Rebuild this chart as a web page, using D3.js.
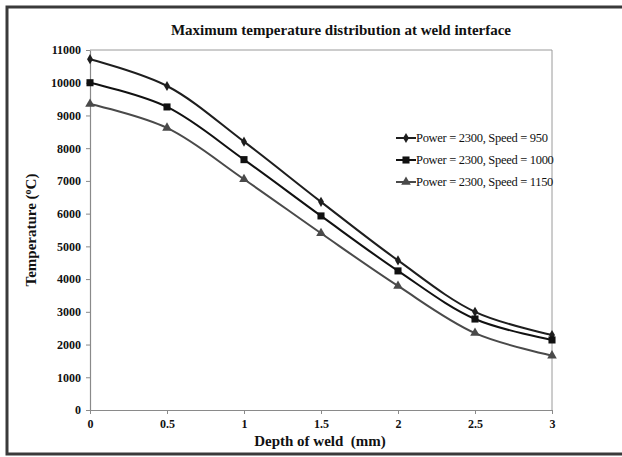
<!DOCTYPE html>
<html>
<head>
<meta charset="utf-8">
<script src="https://cdn.jsdelivr.net/npm/d3@7"></script>
<style>
  body { margin: 0; background: #fff; }
  text { font-family: "Liberation Serif", "Times New Roman", Times, serif; }
</style>
</head>
<body>
<svg id="chart" width="622" height="457"></svg>
<script>
const depth = [0, 0.5, 1, 1.5, 2, 2.5, 3];
const speed950 = [10720, 9900, 8200, 6360, 4570, 3000, 2290];
const speed1000 = [10000, 9260, 7650, 5930, 4250, 2780, 2140];
const speed1150 = [9350, 8620, 7050, 5400, 3790, 2350, 1660];
const seriesNames = ['Power = 2300, Speed = 950', 'Power = 2300, Speed = 1000', 'Power = 2300, Speed = 1150'];
const yTicks = d3.range(0, 11001, 1000);
const xTicks = [0, 0.5, 1, 1.5, 2, 2.5, 3];

const series = [
  { name: seriesNames[0], values: speed950, color: '#1e1e1e', symbol: d3.symbolDiamond, size: 30 },
  { name: seriesNames[1], values: speed1000, color: '#111', symbol: d3.symbolSquare, size: 50 },
  { name: seriesNames[2], values: speed1150, color: '#4a4a4a', symbol: d3.symbolTriangle, size: 40 }
];

const serif = '"Liberation Serif", "Times New Roman", Times, serif';
const svg = d3.select('#chart');
const margin = { left: 90, right: 70, top: 50, bottom: 47 };
const width = 622, height = 457;

// outer frame (top, left, bottom only)
svg.append('path')
  .attr('d', 'M622,7 L7,7 L7,454 L622,454')
  .attr('fill', 'none')
  .attr('stroke', '#3a3a3a')
  .attr('stroke-width', 3);

const x = d3.scaleLinear().domain([0, 3]).range([margin.left, width - margin.right]);
const y = d3.scaleLinear().domain([0, 11000]).range([height - margin.bottom, margin.top]);

// plot area frame: top and right
svg.append('path')
  .attr('d', `M${x(0)},${y(11000)} L${x(3)},${y(11000)} L${x(3)},${y(0)}`)
  .attr('fill', 'none')
  .attr('stroke', '#9a9a9a')
  .attr('stroke-width', 1);

const yAxis = svg.append('g')
  .attr('transform', `translate(${x(0)},0)`)
  .call(d3.axisLeft(y).tickValues(yTicks).tickSize(4).tickSizeOuter(0).tickFormat(d3.format('d')));

const xAxis = svg.append('g')
  .attr('transform', `translate(0,${y(0)})`)
  .call(d3.axisBottom(x).tickValues(xTicks).tickSize(4).tickSizeOuter(0).tickFormat(d => d));

[xAxis, yAxis].forEach(g => {
  g.attr('font-family', serif);
  g.select('.domain').attr('stroke', '#8a8a8a').attr('stroke-width', 1.2);
  g.selectAll('.tick line').attr('stroke', '#8a8a8a');
  g.selectAll('.tick text')
    .attr('font-family', serif)
    .attr('font-weight', 'bold')
    .attr('font-size', 12)
    .attr('fill', '#111');
});
yAxis.selectAll('.tick text').attr('x', -9);
xAxis.selectAll('.tick text').attr('y', 9);

const line = d3.line()
  .x((d, i) => x(depth[i]))
  .y(d => y(d))
  .curve(d3.curveCatmullRom.alpha(0.5));

series.forEach(s => {
  svg.append('path')
    .datum(s.values)
    .attr('d', line)
    .attr('fill', 'none')
    .attr('stroke', s.color)
    .attr('stroke-width', 2);
  svg.append('g').selectAll('path')
    .data(s.values)
    .join('path')
    .attr('transform', (d, i) => `translate(${x(depth[i])},${y(d)})`)
    .attr('d', d3.symbol().type(s.symbol).size(s.size))
    .attr('fill', s.color);
});

// legend
const legend = svg.append('g').attr('transform', 'translate(396,138)');
series.forEach((s, i) => {
  const g = legend.append('g').attr('transform', `translate(0,${i * 22})`);
  g.append('line')
    .attr('x1', 0).attr('x2', 20)
    .attr('stroke', s.color).attr('stroke-width', 2);
  g.append('path')
    .attr('transform', 'translate(10,0)')
    .attr('d', d3.symbol().type(s.symbol).size(s.size))
    .attr('fill', s.color);
  g.append('text')
    .attr('x', 20).attr('dy', '0.35em')
    .attr('font-size', 12.5)
    .attr('letter-spacing', -0.3)
    .attr('fill', '#111')
    .text(s.name);
});

// titles
svg.append('text')
  .attr('x', 341).attr('y', 35)
  .attr('text-anchor', 'middle')
  .attr('font-weight', 'bold')
  .attr('font-size', 15)
  .attr('fill', '#111')
  .text('Maximum temperature distribution at weld interface');

svg.append('text')
  .attr('x', 320).attr('y', 446)
  .attr('text-anchor', 'middle')
  .attr('font-weight', 'bold')
  .attr('font-size', 15)
  .attr('fill', '#111')
  .attr('xml:space', 'preserve')
  .text('Depth of weld  (mm)');

const yt = svg.append('text')
  .attr('transform', 'translate(36,230) rotate(-90)')
  .attr('text-anchor', 'middle')
  .attr('font-weight', 'bold')
  .attr('font-size', 15)
  .attr('fill', '#111');
yt.append('tspan').text('Temperature (');
yt.append('tspan').attr('baseline-shift', 'super').attr('font-size', 10).text('o');
yt.append('tspan').text('C)');
</script>
</body>
</html>
